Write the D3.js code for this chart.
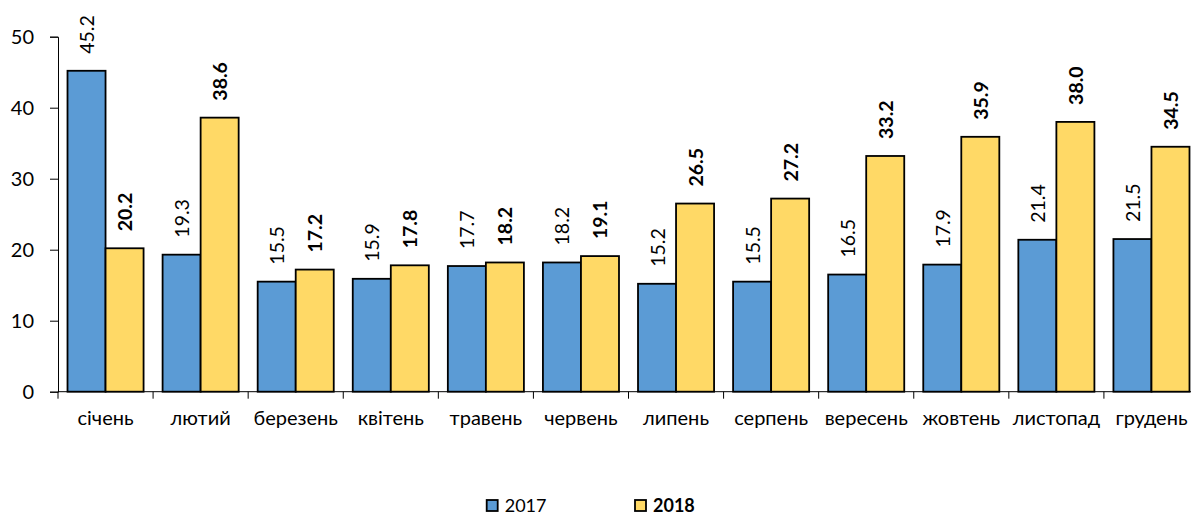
<!DOCTYPE html>
<html><head><meta charset="utf-8">
<script src="https://cdn.jsdelivr.net/npm/d3@7"></script>
<style>
body{margin:0;background:#fff;}
svg{display:block;font-family:Lato,"Open Sans",sans-serif;}
</style></head>
<body>
<svg id="c" width="1191" height="515"></svg>
<script>
const categories = ["січень","лютий","березень","квітень","травень","червень","липень","серпень","вересень","жовтень","листопад","грудень"];
const values2017 = [45.2,19.3,15.5,15.9,17.7,18.2,15.2,15.5,16.5,17.9,21.4,21.5];
const values2018 = [20.2,38.6,17.2,17.8,18.2,19.1,26.5,27.2,33.2,35.9,38.0,34.5];
const seriesNames = ["2017","2018"];
const yTicks = [0,10,20,30,40,50];
const colors = ["#5B9BD5","#FFD966"];

const svg = d3.select("#c");
const mLeft = 58, mRight = 1199, mTop = 36.7, mBottom = 391.7;
const x0 = d3.scaleBand().domain(categories).range([mLeft,mRight]).padding(0);
const x1 = d3.scaleBand().domain(seriesNames).range([0,x0.bandwidth()]).paddingInner(0).paddingOuter(0.25);
const y = d3.scaleLinear().domain([0,50]).range([mBottom,mTop]);

// y axis
const yAxis = d3.axisLeft(y).tickValues(yTicks).tickSize(8).tickPadding(16);
const gy = svg.append("g").attr("transform",`translate(${mLeft},0)`).call(yAxis);
gy.select(".domain").attr("stroke","#000").attr("stroke-width",1);
gy.selectAll(".tick line").attr("stroke","#000");
gy.selectAll("text").attr("font-size",20).attr("fill","#000").attr("font-family","Lato,'Open Sans',sans-serif");

const data = categories.map((c,i)=>({cat:c, vals:[values2017[i],values2018[i]]}));
const groups = svg.append("g").selectAll("g").data(data).join("g")
  .attr("transform",d=>`translate(${x0(d.cat)},0)`);
groups.selectAll("rect").data(d=>d.vals.map((v,j)=>({v,j}))).join("rect")
  .attr("x",d=>x1(seriesNames[d.j]))
  .attr("width",x1.bandwidth())
  .attr("y",d=>y(d.v))
  .attr("height",d=>y(0)-y(d.v))
  .attr("fill",d=>colors[d.j])
  .attr("stroke","#000").attr("stroke-width",1.8);

groups.selectAll("text.lbl").data(d=>d.vals.map((v,j)=>({v,j}))).join("text")
  .attr("class","lbl")
  .attr("transform",d=>`translate(${x1(seriesNames[d.j])+x1.bandwidth()/2},${y(d.v)-17}) rotate(-90)`)
  .attr("text-anchor","start")
  .attr("dominant-baseline","central")
  .attr("font-size",19.5)
  .attr("font-weight",d=>d.j===1?"bold":"normal")
  .attr("fill","#000")
  .text(d=>d.v.toFixed(1));

// x axis
svg.append("line").attr("x1",mLeft).attr("x2",mRight).attr("y1",mBottom).attr("y2",mBottom).attr("stroke","#000");
const bounds = categories.map(c=>x0(c)).concat([mRight]);
svg.append("g").selectAll("line").data(bounds).join("line")
  .attr("x1",d=>d).attr("x2",d=>d).attr("y1",mBottom).attr("y2",mBottom+7).attr("stroke","#000");
svg.append("g").selectAll("text").data(categories).join("text")
  .attr("x",d=>x0(d)+x0.bandwidth()/2).attr("y",425)
  .attr("text-anchor","middle").attr("font-size",20).attr("fill","#000")
  .text(d=>d);

// legend
const legX = [486.7,635];
const leg = svg.append("g").selectAll("g").data(seriesNames).join("g")
  .attr("transform",(d,i)=>`translate(${legX[i]},500)`);
leg.append("rect").attr("width",11).attr("height",11).attr("fill",(d,i)=>colors[i]).attr("stroke","#000").attr("stroke-width",1.8);
leg.append("text").attr("x",18).attr("y",11.7).attr("font-size",18)
  .attr("font-weight",(d,i)=>i===1?"bold":"normal").attr("fill","#000").text(d=>d);
</script>
</body></html>
